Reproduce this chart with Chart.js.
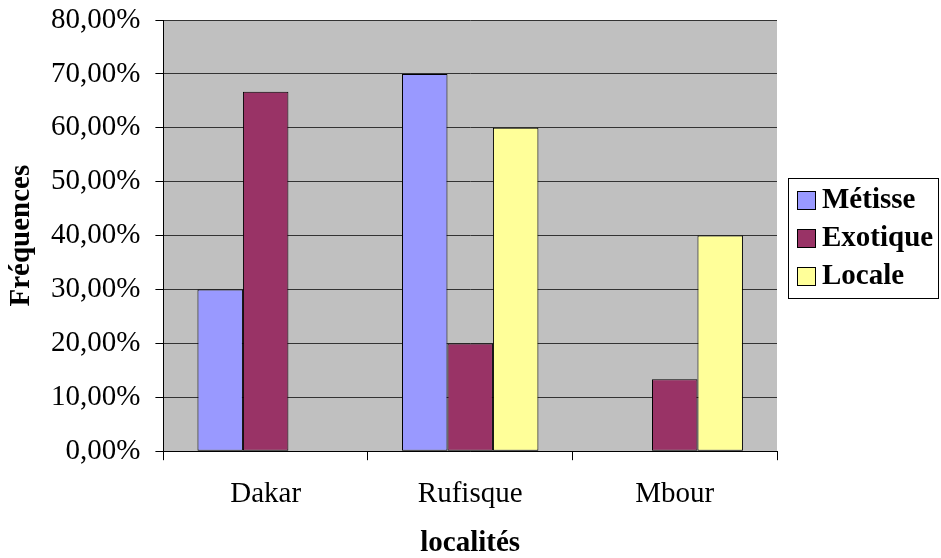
<!DOCTYPE html>
<html>
<head>
<meta charset="utf-8">
<script src="https://cdn.jsdelivr.net/npm/chart.js@4.4.1/dist/chart.umd.min.js"></script>
<style>
  html, body { margin: 0; padding: 0; background: #ffffff; }
  #wrap { width: 941px; height: 558px; }
</style>
</head>
<body>
<div id="wrap"><canvas id="freqChart" width="941" height="558"></canvas></div>
<script>
var localites = ["Dakar", "Rufisque", "Mbour"];
var metisse = [30, 70, 0];
var exotique = [66.67, 20, 13.33];
var locale = [0, 60, 40];
var yTicks = [0, 10, 20, 30, 40, 50, 60, 70, 80];

var serif = "'Liberation Serif', 'Times New Roman', serif";

// fond gris de la zone de tracé
var plotBackground = {
    id: "plotBackground",
    beforeDraw: function(chart) {
        var a = chart.chartArea;
        var ctx = chart.ctx;
        ctx.save();
        ctx.fillStyle = "#C0C0C0";
        ctx.fillRect(a.left, a.top, a.right - a.left, a.bottom - a.top);
        ctx.restore();
    }
};

// légende encadrée, style Excel (carré collé au texte)
var boxedLegend = {
    id: "boxedLegend",
    afterDraw: function(chart) {
        var a = chart.chartArea;
        var ctx = chart.ctx;
        var sets = chart.data.datasets;
        var rowH = 38, sq = 19;
        var frameL = Math.round(a.right) + 11;
        var frameW = 150;
        var frameH = 120;
        var midY = Math.round((a.top + a.bottom) / 2) + 2;
        var frameT = midY - frameH / 2;
        ctx.save();
        ctx.strokeStyle = "#000000";
        ctx.lineWidth = 1;
        ctx.strokeRect(frameL + 0.5, frameT + 0.5, frameW, frameH);
        ctx.font = "bold 29px " + serif;
        ctx.textBaseline = "middle";
        ctx.textAlign = "left";
        sets.forEach(function(ds, i) {
            var cy = midY + (i - (sets.length - 1) / 2) * rowH;
            var sx = frameL + 9;
            var sy = Math.round(cy - sq / 2);
            ctx.fillStyle = ds.backgroundColor;
            ctx.fillRect(sx, sy, sq, sq);
            ctx.strokeStyle = "#000000";
            ctx.strokeRect(sx + 0.5, sy + 0.5, sq - 1, sq - 1);
            ctx.fillStyle = "#000000";
            ctx.fillText(ds.label, sx + sq + 6, cy + 1);
        });
        ctx.restore();
    }
};

var ctx = document.getElementById("freqChart").getContext("2d");

var chartInstance = new Chart(ctx, {
    type: "bar",
    data: {
        labels: localites,
        datasets: [
            { label: "Métisse", data: metisse, backgroundColor: "#9999FF" },
            { label: "Exotique", data: exotique, backgroundColor: "#993366" },
            { label: "Locale", data: locale, backgroundColor: "#FFFF99" }
        ].map(function(ds) {
            ds.borderColor = "#000000";
            ds.borderWidth = 1;
            ds.borderSkipped = false;
            ds.categoryPercentage = 0.667;
            ds.barPercentage = 1;
            return ds;
        })
    },
    options: {
        responsive: false,
        animation: false,
        layout: { padding: { top: 0, right: 164, left: 7, bottom: 0 } },
        plugins: {
            legend: { display: false },
            tooltip: { enabled: false }
        },
        scales: {
            x: {
                grid: {
                    drawOnChartArea: false,
                    drawTicks: true,
                    tickLength: 9,
                    color: "#000000"
                },
                border: { color: "#000000" },
                ticks: {
                    font: { family: serif, size: 29 },
                    color: "#000000",
                    padding: 17
                },
                title: {
                    display: true,
                    text: "localités",
                    font: { family: serif, size: 29, weight: "bold", lineHeight: 1 },
                    color: "#000000",
                    padding: { top: 0, bottom: 0 }
                }
            },
            y: {
                min: 0,
                max: 80,
                afterBuildTicks: function(axis) {
                    axis.ticks = yTicks.map(v => ({ value: v }));
                },
                afterFit: function(axis) {
                    axis.paddingTop = 20;
                    axis.paddingBottom = 0;
                },
                grid: {
                    color: "#333333",
                    tickLength: 8,
                    tickColor: "#000000"
                },
                border: { color: "#000000" },
                ticks: {
                    font: { family: serif, size: 29 },
                    color: "#000000",
                    padding: 15,
                    callback: function(v) {
                        return v.toFixed(2).replace(".", ",") + "%";
                    }
                },
                title: {
                    display: true,
                    text: "Fréquences",
                    font: { family: serif, size: 29, weight: "bold", lineHeight: 1 },
                    color: "#000000",
                    padding: { top: 0, bottom: 0 }
                }
            }
        }
    },
    plugins: [plotBackground, boxedLegend]
});
</script>
</body>
</html>
